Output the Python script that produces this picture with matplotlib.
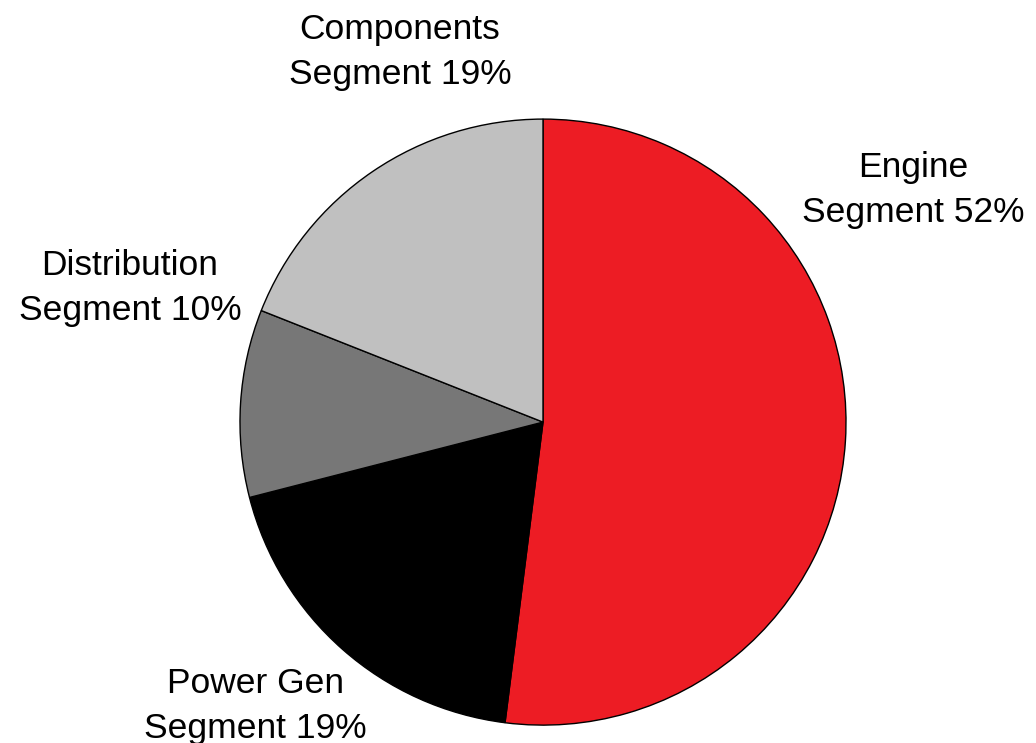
import matplotlib.pyplot as plt

# segment shares of total sales
segments = ["Engine\nSegment 52%", "Power Gen\nSegment 19%",
            "Distribution\nSegment 10%", "Components\nSegment 19%"]
shares = [52, 19, 10, 19]
colours = ["#ED1C24", "#000000", "#777777", "#C0C0C0"]

# label anchor points, in units of the pie radius
label_x = [1.221, -0.950, -1.363, -0.472]
label_y = [0.766, -0.937, 0.442, 1.221]

plt.rcParams["font.family"] = ["Liberation Sans", "DejaVu Sans"]

fig = plt.figure(figsize=(10.36, 7.43), dpi=100)
ax = fig.add_axes([0, 0, 1, 1])

ax.pie(shares, colors=colours, startangle=90, counterclock=False,
       radius=1.0, center=(0, 0),
       wedgeprops=dict(edgecolor="black", linewidth=1.0))

for text, x, y in zip(segments, label_x, label_y):
    ax.text(x, y, text, ha="center", va="center", multialignment="center",
            fontsize=25.5, color="black", linespacing=1.45)

ax.set_xlim(-1.792, 1.627)
ax.set_ylim(-1.059, 1.393)
ax.set_aspect("equal")
ax.axis("off")

fig.savefig("out.png", dpi=100)
